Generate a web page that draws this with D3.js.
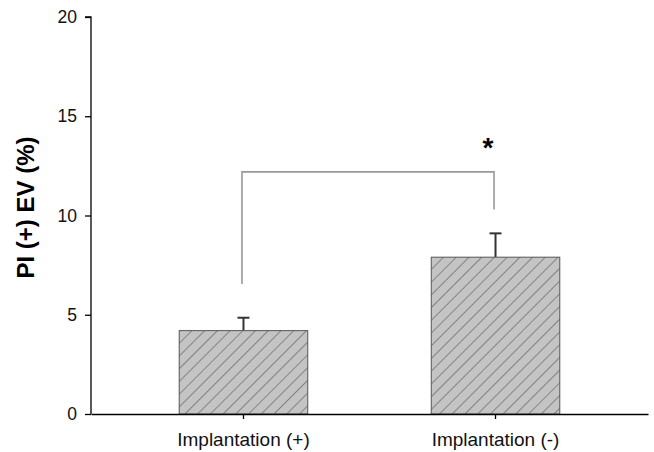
<!DOCTYPE html>
<html>
<head>
<meta charset="utf-8">
<script src="https://cdn.jsdelivr.net/npm/d3@7"></script>
<style>
  body { margin: 0; background: #fff; }
  svg { display: block; font-family: Arial, "Liberation Sans", sans-serif; }
</style>
</head>
<body>
<script>
// data
const categories = ['Implantation (+)', 'Implantation (-)'];
const means = [4.2, 7.9];
const errors = [0.65, 1.2];
const yTicks = [0, 5, 10, 15, 20];
// significance bracket: top level and where each leg ends
const bracketTop = 12.2;
const bracketEnds = [6.55, 10.3];

const width = 654;
const height = 452;
const margin = ({top: 17, right: 6, bottom: 38, left: 91});

const data = categories.map((c, i) => ({cat: c, mean: means[i], err: errors[i]}));

const svg = d3.select('body')
  .append('svg')
  .attr('width', width)
  .attr('height', height);

// scales
const yScale = d3.scaleLinear()
  .domain([0, 20])
  .range([height - margin.bottom, margin.top]);

const xScale = d3.scaleBand()
  .domain(categories)
  .range([margin.left, width - margin.right])
  .paddingInner(0.49)
  .paddingOuter(0.35);

const cx = d => xScale(d) + xScale.bandwidth() / 2;

// hatch pattern for the bars
const defs = svg.append('defs');
const pat = defs.append('pattern')
  .attr('id', 'hatch')
  .attr('patternUnits', 'userSpaceOnUse')
  .attr('width', 9)
  .attr('height', 9)
  .attr('patternTransform', 'rotate(45)');
pat.append('rect')
  .attr('width', 9).attr('height', 9)
  .attr('fill', '#c4c4c4');
pat.append('line')
  .attr('x1', 0).attr('y1', 0).attr('x2', 0).attr('y2', 9)
  .attr('stroke', '#666')
  .attr('stroke-width', 1.4);

// error bars (drawn first so the bar covers the lower half)
const eb = svg.append('g')
  .selectAll('g')
  .data(data)
  .join('g');
eb.append('line')
  .attr('x1', d => cx(d.cat))
  .attr('x2', d => cx(d.cat))
  .attr('y1', d => yScale(d.mean))
  .attr('y2', d => yScale(d.mean + d.err))
  .attr('stroke', '#333')
  .attr('stroke-width', 2);
eb.append('line')
  .attr('x1', d => cx(d.cat) - 6)
  .attr('x2', d => cx(d.cat) + 6)
  .attr('y1', d => yScale(d.mean + d.err))
  .attr('y2', d => yScale(d.mean + d.err))
  .attr('stroke', '#333')
  .attr('stroke-width', 2);

// bars
svg.append('g')
  .selectAll('rect')
  .data(data)
  .join('rect')
  .attr('x', d => xScale(d.cat))
  .attr('y', d => yScale(d.mean))
  .attr('width', xScale.bandwidth())
  .attr('height', d => yScale(0) - yScale(d.mean))
  .attr('fill', 'url(#hatch)')
  .attr('stroke', '#555')
  .attr('stroke-width', 1);

// significance bracket
const bx = categories.map(c => cx(c) - 1.5);
svg.append('path')
  .attr('d', `M${bx[0]},${yScale(bracketEnds[0])}V${yScale(bracketTop)}H${bx[1]}V${yScale(bracketEnds[1])}`)
  .attr('fill', 'none')
  .attr('stroke', '#999')
  .attr('stroke-width', 1.6);

svg.append('text')
  .attr('x', bx[1] - 6)
  .attr('y', yScale(bracketTop) - 15)
  .attr('text-anchor', 'middle')
  .style('font-size', '28px')
  .style('font-weight', 'bold')
  .text('*');

// y axis
const yAxis = d3.axisLeft(yScale)
  .tickValues(yTicks)
  .tickSize(6)
  .tickPadding(8);
const gy = svg.append('g')
  .attr('transform', `translate(${margin.left},0)`)
  .call(yAxis);
gy.select('.domain').attr('stroke', '#000').attr('stroke-width', 1.3).attr('d', `M-6,${yScale(20)}H0V${yScale(0)}`);
gy.selectAll('.tick line').attr('stroke-width', 1.3);
gy.selectAll('text')
  .style('font-size', '17.5px')
  .attr('fill', '#111');

// x axis
const xAxis = d3.axisBottom(xScale)
  .tickSize(5)
  .tickSizeOuter(0)
  .tickPadding(14);
const gx = svg.append('g')
  .attr('transform', `translate(0,${yScale(0)})`)
  .call(xAxis);
gx.select('.domain').attr('stroke-width', 1.3);
gx.selectAll('.tick line').attr('stroke-width', 1.3);
gx.selectAll('text')
  .style('font-size', '19px')
  .attr('fill', '#111');

// y axis title
svg.append('text')
  .attr('transform', `translate(34, ${yScale(10) - 8}) rotate(-90)`)
  .attr('text-anchor', 'middle')
  .style('font-size', '24px')
  .style('font-weight', 'bold')
  .text('PI (+) EV (%)');
</script>
</body>
</html>
